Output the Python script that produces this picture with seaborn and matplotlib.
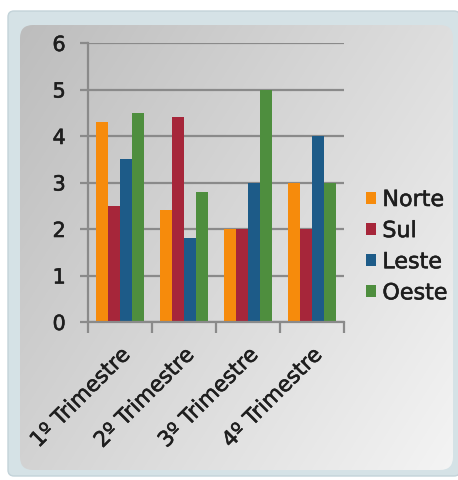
import numpy as np
import pandas as pd
import matplotlib
matplotlib.use("Agg")
import matplotlib.pyplot as plt
import matplotlib.patheffects as pe
import seaborn as sns
from matplotlib.patches import FancyBboxPatch
from matplotlib.ticker import FixedLocator

categories = ["1º Trimestre", "2º Trimestre", "3º Trimestre", "4º Trimestre"]
series = ["Norte", "Sul", "Leste", "Oeste"]
norte = [4.3, 2.4, 2.0, 3.0]
sul = [2.5, 4.4, 2.0, 2.0]
leste = [3.5, 1.8, 3.0, 4.0]
oeste = [4.5, 2.8, 5.0, 3.0]
yticks = [0, 1, 2, 3, 4, 5, 6]
colors = ["#f68b0c", "#a6263a", "#1d5b88", "#4e8e3e"]

rows = []
for s, vals in zip(series, [norte, sul, leste, oeste]):
    for c, v in zip(categories, vals):
        rows.append({"Trimestre": c, "Região": s, "Valor": v})
df = pd.DataFrame(rows)

sns.set_theme(style="white")
plt.rcParams["font.family"] = ["DejaVu Sans"]

W, H = 458, 480
fig = plt.figure(figsize=(W / 100, H / 100), dpi=100)
fig.patch.set_facecolor("white")

# background panel
bg = fig.add_axes([0, 0, 1, 1], zorder=-10)
bg.set_xlim(0, W)
bg.set_ylim(H, 0)
bg.axis("off")
outer = FancyBboxPatch((8, 11), W - 6, H - 15, boxstyle="round,pad=0,rounding_size=6",
                       facecolor="#d5e2e6", edgecolor="#c3d3d9", linewidth=1)
bg.add_patch(outer)
yy, xx = np.mgrid[0:H, 0:W]
grad = 0.73 + 0.23 * (0.6 * xx / W + 0.4 * yy / H)
grad = np.clip(grad, 0, 1)
img = bg.imshow(np.dstack([grad, grad, grad]), extent=(0, W, H, 0), zorder=1)
inner = FancyBboxPatch((20, 25), 433, 445, boxstyle="round,pad=0,rounding_size=13",
                       facecolor="none", edgecolor="none")
bg.add_patch(inner)
img.set_clip_path(inner)

ax = fig.add_axes([88 / W, 1 - 322 / H, (344 - 88) / W, (322 - 43) / H])
ax.set_facecolor("none")
sns.barplot(data=df, x="Trimestre", y="Valor", hue="Região", palette=colors,
            width=0.75, gap=0, saturation=1, ax=ax, linewidth=0, edgecolor="none")

thick = [pe.withStroke(linewidth=0.4, foreground="#1e1e1e")]
ax.set_ylim(0, 6)
ax.set_xlim(-0.5, 3.5)
ax.set_yticks(yticks)
ax.set_yticklabels([str(t) for t in yticks], fontsize=15, color="#1e1e1e")
for t in ax.get_yticklabels():
    t.set_path_effects(thick)
ax.yaxis.grid(True, color="#8a8a8a", linewidth=1.6)
ax.set_axisbelow(True)
ax.set_xlabel("")
ax.set_ylabel("")
for s in ["top", "right"]:
    ax.spines[s].set_visible(False)
for s in ["left", "bottom"]:
    ax.spines[s].set_color("#8a8a8a")
    ax.spines[s].set_linewidth(1.6)
ax.tick_params(axis="y", length=6, width=1.6, color="#8a8a8a", pad=10, left=True)
ax.xaxis.set_minor_locator(FixedLocator([-0.5, 0.5, 1.5, 2.5, 3.5]))
ax.tick_params(axis="x", which="minor", length=8, width=1.6, color="#8a8a8a", bottom=True)
ax.tick_params(axis="x", which="major", length=0, pad=16)
ax.set_xticks(range(len(categories)))
ax.set_xticklabels(categories, rotation=45, ha="right", rotation_mode="anchor",
                   fontsize=15.5, color="#1e1e1e")
for t in ax.get_xticklabels():
    t.set_path_effects(thick)

leg = ax.legend(loc="center left", bbox_to_anchor=(1.05, 0.27), frameon=False,
                fontsize=16, handlelength=0.45, handleheight=0.45, handletextpad=0.3,
                labelspacing=0.5, borderaxespad=0, labelcolor="#1e1e1e")
for t in leg.get_texts():
    t.set_path_effects(thick)

fig.savefig("out.png", dpi=100, facecolor=fig.get_facecolor())
